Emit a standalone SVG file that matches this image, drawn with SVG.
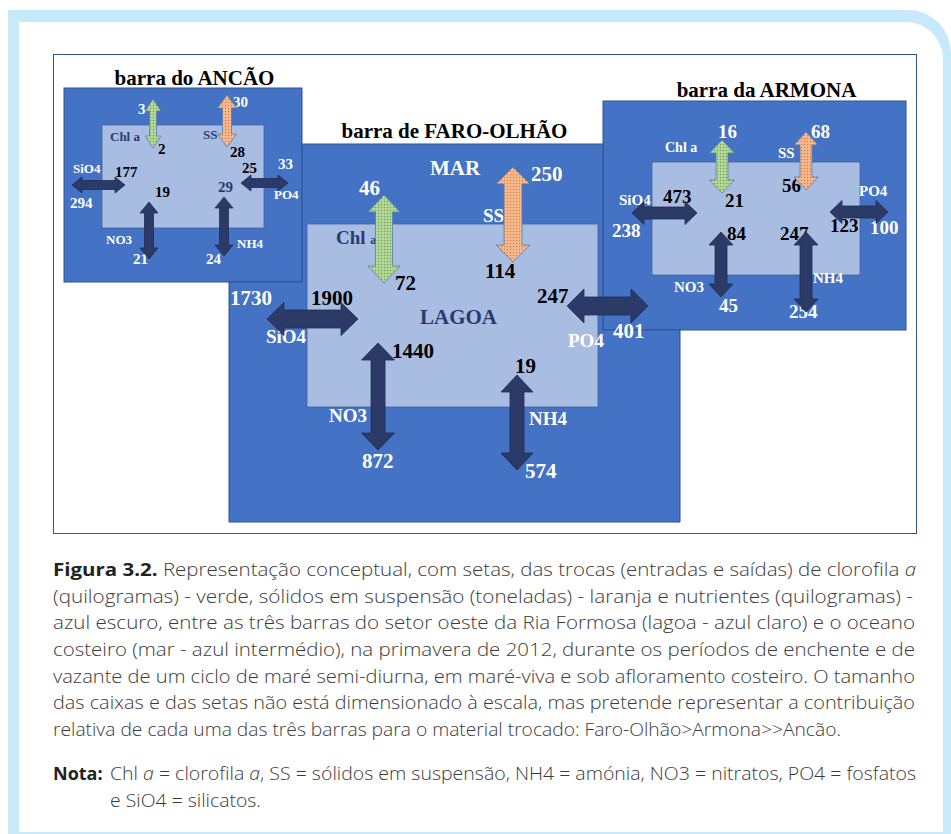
<svg xmlns="http://www.w3.org/2000/svg" width="951" height="834" viewBox="0 0 951 834">
<style>
.t{font-family:"Liberation Serif","Times New Roman",serif;font-weight:bold}
.w{fill:#fff}.k{fill:#000}.n{fill:#2b3a6e}
.mid{fill:#4472c4;stroke:#2f528f;stroke-width:1}
.lt{fill:#a9bde3;stroke:#41619c;stroke-width:0.8}
.da{fill:#2b3a67;stroke:#1f2d57;stroke-width:0.8}
.ga{fill:url(#pg);stroke:#5b7fa6;stroke-width:0.8}
.oa{fill:url(#po);stroke:#5b7fa6;stroke-width:0.8}
.cap{font-family:"Open Sans","Noto Sans","Liberation Sans",sans-serif;font-size:18px;fill:#3a3a3a;font-weight:300}
.b{font-weight:bold;fill:#222}
.i{font-style:italic}
</style>
<defs>
<pattern id="pg" width="3" height="3" patternUnits="userSpaceOnUse"><rect width="3" height="3" fill="#a9d18e"/><rect width="1" height="1" fill="#6f9e52"/><rect x="1.5" y="1.5" width="1" height="1" fill="#d8ecc8"/></pattern>
<pattern id="po" width="3" height="3" patternUnits="userSpaceOnUse"><rect width="3" height="3" fill="#f4b183"/><rect width="1" height="1" fill="#d0763e"/><rect x="1.5" y="1.5" width="1" height="1" fill="#fbd5b5"/></pattern>
</defs>
<g id="frame">
<path d="M8,834 V10 H908 A43,43 0 0 1 951,53 V834 Z" fill="#c7e9f9"/>
<path d="M19,832 V22 H906 A37,37 0 0 1 943,59 V832 Z" fill="#fff"/>
<rect x="53.5" y="54.5" width="863" height="479" fill="none" stroke="#2f5597" stroke-width="1"/>
</g>
<g id="armona">
<rect class="mid" x="603" y="101" width="303" height="229"/>
<rect class="lt" x="652" y="162" width="208" height="113"/>
<text class="t k" x="766.5" y="97" font-size="21" text-anchor="middle">barra da ARMONA</text>
<g class="t" font-size="15">
<text class="w" x="665" y="152" font-size="14">Chl a</text>
<text class="w" x="778" y="158">SS</text>
<text class="w" x="619" y="205">SiO4</text>
<text class="w" x="859" y="196">PO4</text>
<text class="w" x="674" y="292">NO3</text>
<text class="w" x="813" y="283">NH4</text>
</g>
<g class="t" font-size="19">
<text class="w" x="718" y="138">16</text>
<text class="w" x="811" y="138">68</text>
<text class="k" x="782" y="192">56</text>
<text class="k" x="663" y="203">473</text>
<text class="w" x="612" y="237">238</text>
<text class="k" x="725" y="207">21</text>
<text class="k" x="830" y="232">123</text>
<text class="w" x="870" y="234">100</text>
<text class="k" x="727" y="240">84</text>
<text class="w" x="719" y="312">45</text>
<text class="k" x="780" y="240">247</text>
<text class="w" x="789" y="318">254</text>
</g>
</g>
<g id="ancao">
<rect class="mid" x="64" y="88" width="238" height="194"/>
<rect class="lt" x="102" y="125" width="162" height="103"/>
<text class="t k" x="194.5" y="85" font-size="21" text-anchor="middle">barra do ANCÃO</text>
<g class="t" font-size="13">
<text class="n" x="110" y="141">Chl a</text>
<text class="n" x="203" y="139">SS</text>
<text class="w" x="73" y="173">SiO4</text>
<text class="w" x="106" y="244">NO3</text>
<text class="w" x="237" y="248">NH4</text>
<text class="w" x="274" y="199">PO4</text>
</g>
<g class="t" font-size="15">
<text class="w" x="138" y="114">3</text>
<text class="w" x="233" y="107">30</text>
<text class="k" x="158" y="154">2</text>
<text class="k" x="230" y="157">28</text>
<text class="k" x="115" y="177">177</text>
<text class="w" x="70" y="208">294</text>
<text class="k" x="155" y="197">19</text>
<text class="w" x="133" y="264">21</text>
<text class="n" x="218" y="192">29</text>
<text class="w" x="206" y="264">24</text>
<text class="k" x="242" y="173">25</text>
<text class="w" x="278" y="169">33</text>
</g>
</g>
<g id="faro">
<polygon class="mid" points="302,144 603,144 603,330 680,330 680,522 229,522 229,282 302,282"/>
<rect class="lt" x="307" y="224" width="291" height="183"/>
<text class="t k" x="454.5" y="138" font-size="21" text-anchor="middle">barra de FARO-OLHÃO</text>
<g class="t" font-size="21">
<text class="w" x="430" y="175">MAR</text>
<text class="n" x="420" y="324">LAGOA</text>
<text class="w" x="359" y="195">46</text>
<text class="k" x="395" y="290">72</text>
<text class="w" x="230" y="305">1730</text>
<text class="k" x="311" y="305">1900</text>
<text class="w" x="531" y="181">250</text>
<text class="k" x="485" y="278">114</text>
<text class="k" x="537" y="303">247</text>
<text class="w" x="613" y="338">401</text>
<text class="k" x="392" y="358">1440</text>
<text class="w" x="362" y="468">872</text>
<text class="k" x="515" y="373">19</text>
<text class="w" x="525" y="478">574</text>
</g>
<g class="t" font-size="19">
<text class="n" x="336" y="244">Chl <tspan font-size="12">a</tspan></text>
<text class="w" x="266" y="343">SiO4</text>
<text class="w" x="483" y="222">SS</text>
<text class="w" x="568" y="347">PO4</text>
<text class="w" x="329" y="422">NO3</text>
<text class="w" x="529" y="425">NH4</text>
</g>
</g>
<g id="connectors">
<polygon class="ga" points="153,99 161,111 156.5,111 156.5,136 161,136 153,148 145,136 149.5,136 149.5,111 145,111"/>
<polygon class="oa" points="227,95 236.5,108 231.5,108 231.5,134 236.5,134 227,147 217.5,134 222.5,134 222.5,108 217.5,108"/>
<polygon class="da" points="72,185 82,177 82,180.5 115,180.5 115,177 125,185 115,193 115,189.5 82,189.5 82,193"/>
<polygon class="da" points="241,183 251,175 251,178.5 278,178.5 278,175 288,183 278,191 278,187.5 251,187.5 251,191"/>
<polygon class="da" points="149,202 158,213 153.5,213 153.5,248 158,248 149,259 140,248 144.5,248 144.5,213 140,213"/>
<polygon class="da" points="224,197 233,208 228.5,208 228.5,245 233,245 224,256 215,245 219.5,245 219.5,208 215,208"/>
<polygon class="ga" points="384,195 400,212 392.5,212 392.5,266 400,266 384,283 368,266 375.5,266 375.5,212 368,212"/>
<polygon class="oa" points="513,167 530,184 522,184 522,245 530,245 513,262 496,245 504,245 504,184 496,184"/>
<polygon class="da" points="267,319 284,302.5 284,310 341,310 341,302.5 358,319 341,335.5 341,328 284,328 284,335.5"/>
<polygon class="da" points="567,306 584,289 584,297 631,297 631,289 648,306 631,323 631,315 584,315 584,323"/>
<polygon class="da" points="378,343 394.5,360 385,360 385,433 394.5,433 378,450 361.5,433 371,433 371,360 361.5,360"/>
<polygon class="da" points="517,375 533,392 524,392 524,453 533,453 517,470 501,453 510,453 510,392 501,392"/>
<polygon class="ga" points="722,140 734.5,153 728,153 728,180 734.5,180 722,193 709.5,180 716,180 716,153 709.5,153"/>
<polygon class="oa" points="806,132 818,145 812,145 812,177 818,177 806,190 794,177 800,177 800,145 794,145"/>
<polygon class="da" points="632,213 644,201.5 644,207 685,207 685,201.5 697,213 685,224.5 685,219 644,219 644,224.5"/>
<polygon class="da" points="830,212 842,200.5 842,206 876,206 876,200.5 888,212 876,223.5 876,218 842,218 842,223.5"/>
<polygon class="da" points="721,232 733,245 727,245 727,284 733,284 721,297 709,284 715,284 715,245 709,245"/>
<polygon class="da" points="806,232 818,245 812,245 812,299 818,299 806,312 794,299 800,299 800,245 794,245"/>
</g>
<g id="caption" class="cap">
<text x="53" y="576" textLength="863" lengthAdjust="spacingAndGlyphs"><tspan class="b">Figura 3.2.</tspan>  Representação conceptual, com setas, das trocas (entradas e saídas) de clorofila <tspan class="i">a</tspan></text>
<text x="53" y="602.7" textLength="860" lengthAdjust="spacingAndGlyphs">(quilogramas) - verde, sólidos em suspensão (toneladas) - laranja e nutrientes (quilogramas) -</text>
<text x="53" y="629.3" textLength="862" lengthAdjust="spacingAndGlyphs">azul escuro, entre as três barras do setor oeste da Ria Formosa (lagoa - azul claro) e o oceano</text>
<text x="53" y="656" textLength="862" lengthAdjust="spacingAndGlyphs">costeiro (mar - azul intermédio), na primavera de 2012, durante os períodos de enchente e de</text>
<text x="53" y="682.7" textLength="862" lengthAdjust="spacingAndGlyphs">vazante de um ciclo de maré semi-diurna, em maré-viva e sob afloramento costeiro. O tamanho</text>
<text x="53" y="709.3" textLength="862" lengthAdjust="spacingAndGlyphs">das caixas e das setas não está dimensionado à escala, mas pretende representar a contribuição</text>
<text x="53" y="736" textLength="788" lengthAdjust="spacingAndGlyphs">relativa de cada uma das três barras para o material trocado: Faro-Olhão&gt;Armona&gt;&gt;Ancão.</text>
<text x="53" y="780" class="b">Nota:</text>
<text x="110" y="780" textLength="806" lengthAdjust="spacingAndGlyphs">Chl <tspan class="i">a</tspan> = clorofila <tspan class="i">a</tspan>, SS = sólidos em suspensão, NH4 = amónia, NO3 = nitratos, PO4 = fosfatos</text>
<text x="110" y="807" textLength="151" lengthAdjust="spacingAndGlyphs">e SiO4 = silicatos.</text>
</g>
</svg>
